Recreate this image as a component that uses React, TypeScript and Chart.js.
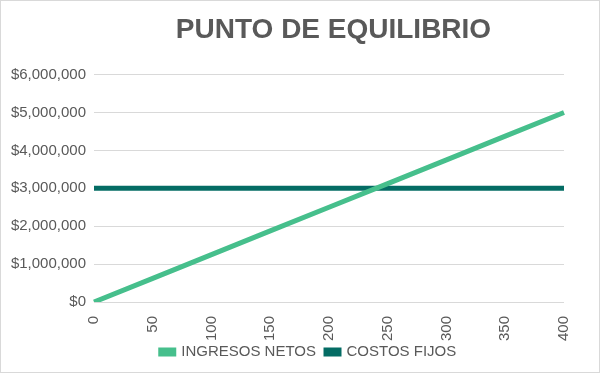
import React, { useEffect, useRef } from "react";
import { Chart, registerables } from "chart.js";

Chart.register(...registerables);

const TITLE = "PUNTO DE EQUILIBRIO";
const UNIDADES = ["0", "50", "100", "150", "200", "250", "300", "350", "400"];
const INGRESOS_NETOS = [0, 625000, 1250000, 1875000, 2500000, 3125000, 3750000, 4375000, 5000000];
const COSTOS_FIJOS = [3000000, 3000000, 3000000, 3000000, 3000000, 3000000, 3000000, 3000000, 3000000];
const Y_MIN = 0;
const Y_MAX = 6000000;
const Y_STEP = 1000000;

const FONT = '"Liberation Sans", Arial, sans-serif';
const TEXT = "#595959";

const shiftPlugin = {
  id: "shiftBlocks",
  afterLayout(chart: any) {
    const t = chart.titleBlock;
    if (t) {
      t.left += 47;
      t.right += 47;
    }
    const l = chart.legend;
    if (l) {
      l.left += 22;
      l.right += 22;
      l.top -= 7.5;
      l.bottom -= 7.5;
    }
  },
};

export default function App() {
  const ref = useRef<HTMLCanvasElement | null>(null);
  useEffect(() => {
    if (!ref.current) return;
    const chart = new Chart(ref.current, {
      type: "line",
      data: {
        labels: UNIDADES,
        datasets: [
          {
            label: "INGRESOS NETOS",
            data: INGRESOS_NETOS,
            borderColor: "#46BF8C",
            backgroundColor: "#46BF8C",
            borderWidth: 5,
            pointRadius: 0,
            tension: 0,
          },
          {
            label: "COSTOS FIJOS",
            data: COSTOS_FIJOS,
            borderColor: "#046C64",
            backgroundColor: "#046C64",
            borderWidth: 5,
            pointRadius: 0,
            tension: 0,
          },
        ],
      },
      options: {
        responsive: false,
        animation: false,
        devicePixelRatio: 1,
        layout: { padding: { left: 8, right: 35, top: 0, bottom: -5 } },
        plugins: {
          title: {
            display: true,
            text: TITLE,
            color: TEXT,
            font: { family: FONT, size: 28, weight: "bold", lineHeight: 1.2 },
            padding: { top: 12, bottom: 28 },
          },
          legend: {
            position: "bottom",
            labels: {
              color: TEXT,
              font: { family: FONT, size: 15 },
              boxWidth: 13,
              boxHeight: 4,
              padding: 10,
            },
          },
          tooltip: { enabled: false },
        },
        scales: {
          x: {
            type: "category",
            offset: false,
            grid: { display: false, drawTicks: false },
            border: { display: false },
            ticks: {
              color: TEXT,
              font: { family: FONT, size: 15 },
              minRotation: 90,
              maxRotation: 90,
              padding: 14,
              autoSkip: false,
            },
            afterFit(scale: any) {
              scale.height = 40;
            },
          },
          y: {
            min: Y_MIN,
            max: Y_MAX,
            grid: { color: "#D9D9D9", lineWidth: 1, drawTicks: false },
            border: { display: false },
            ticks: {
              stepSize: Y_STEP,
              color: TEXT,
              font: { family: FONT, size: 15 },
              padding: 8,
              callback: (v: any) => "$" + Number(v).toLocaleString("en-US"),
            },
            afterFit(scale: any) {
              scale.width = 85;
            },
          },
        },
      },
      plugins: [shiftPlugin],
    });
    return () => chart.destroy();
  }, []);

  return (
    <div
      style={{
        position: "fixed",
        left: 0,
        top: 0,
        width: 600,
        height: 373,
        boxSizing: "border-box",
        border: "1px solid #D9D9D9",
        background: "#FFFFFF",
      }}
    >
      <canvas ref={ref} width={598} height={371} style={{ display: "block" }} />
    </div>
  );
}
